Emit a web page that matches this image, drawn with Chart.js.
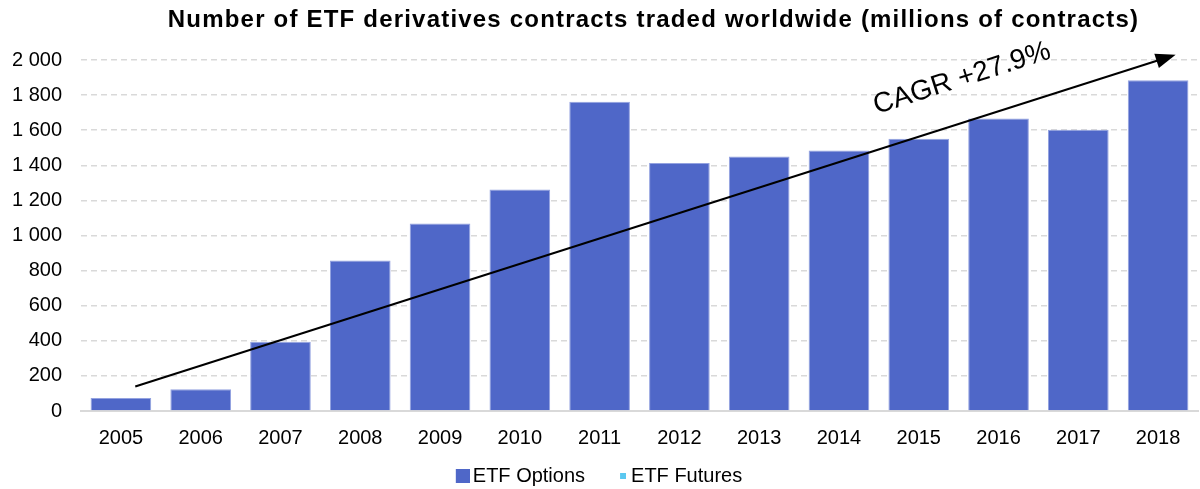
<!DOCTYPE html>
<html>
<head>
<meta charset="utf-8">
<script src="https://cdn.jsdelivr.net/npm/chart.js@4/dist/chart.umd.min.js"></script>
<style>
  html, body { margin: 0; padding: 0; background: #fff; overflow: hidden; }
  /* a few px taller than the window so the legend sits low */
  #wrap { width: 1200px; height: 496px; }
</style>
</head>
<body>
<div id="wrap"><canvas id="etf"></canvas></div>
<script>
const years = ['2005','2006','2007','2008','2009','2010','2011','2012','2013','2014','2015','2016','2017','2018']
const etfOptions = [74, 124, 395, 857, 1068, 1262, 1762, 1413, 1450, 1485, 1551, 1666, 1603, 1884]
const etfFutures = [0, 0, 0, 0, 0, 0, 0, 0, 0, 0, 0, 0, 0, 0]
const yTicks = [0, 200, 400, 600, 800, 1000, 1200, 1400, 1600, 1800, 2000]
const chartTitle = 'Number of ETF derivatives contracts traded worldwide (millions of contracts)'

// trend arrow, in (category index, value) units
const arrowFrom = [0.18, 140]
const arrowTo = [13.22, 2030]
const arrowLabel = 'CAGR +27.9%'
const labelAt = [9.47, 1692]

const blue = '#4f67c8'
const lightBlue = '#5bc8f0'
const fontFamily = '"Liberation Sans", Arial, sans-serif'

// legend marker: a square pushed to the right of a wider transparent canvas,
// so it starts at the item's left edge and sits close to its text
function swatch(width, size, color) {
  const c = document.createElement('canvas')
  c.width = width
  c.height = size
  const g = c.getContext('2d')
  g.fillStyle = color
  g.fillRect(width - size, 0, size, size)
  return c
}

function spaced(v) {
  return String(v).replace(/\B(?=(\d{3})+(?!\d))/g, ' ')
}

// bold title, slightly tracked out, a bit right of the plot centre
const titleText = {
  id: 'titleText',
  afterDraw(chart) {
    const ctx = chart.ctx
    const area = chart.chartArea
    ctx.save()
    ctx.font = 'bold 24px ' + fontFamily
    ctx.letterSpacing = '1.2px'
    ctx.fillStyle = '#000'
    ctx.textAlign = 'center'
    ctx.textBaseline = 'alphabetic'
    ctx.fillText(chartTitle, (area.left + area.right) / 2 + 14, 27)
    ctx.restore()
  }
}

const trendArrow = {
  id: 'trendArrow',
  afterDraw(chart) {
    const x = chart.scales.x
    const y = chart.scales.y
    const ctx = chart.ctx
    const x1 = x.getPixelForValue(arrowFrom[0]), y1 = y.getPixelForValue(arrowFrom[1])
    const x2 = x.getPixelForValue(arrowTo[0]), y2 = y.getPixelForValue(arrowTo[1])
    const ang = Math.atan2(y2 - y1, x2 - x1)
    const head = 20, half = 7.5
    ctx.save()
    ctx.strokeStyle = '#000'
    ctx.fillStyle = '#000'
    ctx.lineWidth = 2
    ctx.beginPath()
    ctx.moveTo(x1, y1)
    ctx.lineTo(x2 - Math.cos(ang) * head * 0.9, y2 - Math.sin(ang) * head * 0.9)
    ctx.stroke()
    ctx.beginPath()
    ctx.moveTo(x2, y2)
    ctx.lineTo(x2 - Math.cos(ang) * head + Math.sin(ang) * half, y2 - Math.sin(ang) * head - Math.cos(ang) * half)
    ctx.lineTo(x2 - Math.cos(ang) * head - Math.sin(ang) * half, y2 - Math.sin(ang) * head + Math.cos(ang) * half)
    ctx.closePath()
    ctx.fill()
    // label runs parallel to the arrow
    ctx.translate(x.getPixelForValue(labelAt[0]), y.getPixelForValue(labelAt[1]))
    ctx.rotate(ang)
    ctx.font = '28px ' + fontFamily
    ctx.textAlign = 'left'
    ctx.textBaseline = 'alphabetic'
    ctx.fillText(arrowLabel, 0, 0)
    ctx.restore()
  }
}

Chart.defaults.font.family = fontFamily
Chart.defaults.color = '#000'

const defaultLabels = Chart.defaults.plugins.legend.labels.generateLabels

new Chart(document.getElementById('etf'), {
  type: 'bar',
  data: {
    labels: years,
    datasets: [{
      label: 'ETF Options',
      data: etfOptions,
      backgroundColor: blue,
      borderColor: '#93a2e0',
      borderWidth: 1,
      pointStyle: swatch(21, 14, blue),
      barPercentage: 0.76,
      categoryPercentage: 1
    }, {
      label: 'ETF Futures',
      data: etfFutures,
      backgroundColor: lightBlue,
      pointStyle: swatch(17, 6, lightBlue),
      barPercentage: 0.76,
      categoryPercentage: 1
    }]
  },
  options: {
    responsive: true,
    maintainAspectRatio: false,
    animation: false,
    layout: { padding: { left: 0, right: 2, top: 60, bottom: 0 } },
    plugins: {
      tooltip: { enabled: false },
      legend: {
        position: 'bottom',
        labels: {
          usePointStyle: true,
          pointStyleWidth: 7,
          font: { size: 20 },
          padding: 9,
          boxHeight: 14,
          // wider gap after the first entry without loosening the rows
          generateLabels(chart) {
            return defaultLabels(chart).map((item, i, all) => {
              if (i < all.length - 1) item.text += '\u2003'
              return item
            })
          }
        }
      }
    },
    scales: {
      x: {
        stacked: true,
        grid: { display: false },
        border: { color: '#d9d9d9', width: 2 },
        ticks: { font: { size: 20 }, padding: 7 }
      },
      y: {
        stacked: true,
        min: 0,
        max: 2000,
        afterBuildTicks(axis) { axis.ticks = yTicks.map(v => ({ value: v })) },
        afterFit(axis) { axis.width = 81 },
        grid: { color: '#d9d9d9', lineWidth: 1.5, drawTicks: false },
        border: { display: false, dash: [6, 4] },
        ticks: { font: { size: 20 }, padding: 19, callback: v => spaced(v) }
      }
    }
  },
  plugins: [titleText, trendArrow]
})
</script>
</body>
</html>
